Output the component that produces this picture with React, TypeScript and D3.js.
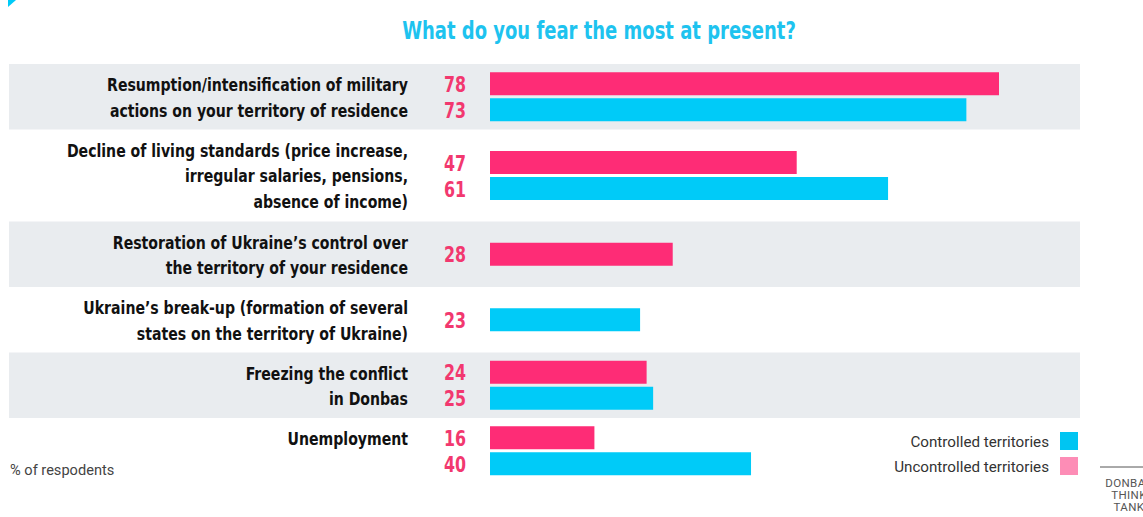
import React from "react";
import * as d3 from "d3";

const title = "What do you fear the most at present?";
const categories: string[][] = [
  ["Resumption/intensification of military", "actions on your territory of residence"],
  ["Decline of living standards (price increase,", "irregular salaries, pensions,", "absence of income)"],
  ["Restoration of Ukraine’s control over", "the territory of your residence"],
  ["Ukraine’s break-up (formation of several", "states on the territory of Ukraine)"],
  ["Freezing the conflict", "in Donbas"],
  ["Unemployment"],
];
const uncontrolled: (number | null)[] = [78, 47, 28, null, 24, 16];
const controlled: (number | null)[] = [73, 61, null, 23, 25, 40];
const legendItems = ["Controlled territories", "Uncontrolled territories"];
const unitNote = "% of respodents";
const brandLines = ["DONBAS", "THINK", "TANK"];

const W = 1143;
const H = 517;
const PINK = "#fe2c76";
const CYAN = "#00cbf8";
const PINK_LIGHT = "#fd8db6";
const CYAN_LEGEND = "#00c5f2";
const NUM = "#f2386f";
const BAND = "#e9ecef";
const FONT = "'DejaVu Sans Condensed', 'DejaVu Sans', sans-serif";
const FONT_REG = "Roboto, 'Liberation Sans', sans-serif";

function NarrowText(props: {
  x: number;
  y: number;
  sx: number;
  anchor: "start" | "middle" | "end";
  size: number;
  fill: string;
  weight?: number;
  family: string;
  children: React.ReactNode;
}) {
  const { x, y, sx, anchor, size, fill, weight, family, children } = props;
  return (
    <g transform={`translate(${x},${y}) scale(${sx},1)`}>
      <text x={0} y={0} dy="0.35em" textAnchor={anchor} fontFamily={family} fontWeight={weight ?? 400} fontSize={size} fill={fill}>
        {children}
      </text>
    </g>
  );
}

export default function App() {
  const top0 = 64;
  const heights = categories.map((c) => (c.length >= 3 ? 92 : 65.5));
  const tops: number[] = [];
  let acc = top0;
  heights.forEach((h) => {
    tops.push(acc);
    acc += h;
  });
  const maxV = d3.max([...uncontrolled, ...controlled].map((v) => v ?? 0)) as number;
  const x = d3.scaleLinear().domain([0, maxV]).range([490, 999]);
  const barH = 23;
  const gap = 3;
  const lineH = 25.5;

  return (
    <svg width={W} height={H} style={{ position: "absolute", left: 0, top: 0, background: "#fff" }}>
      <polygon points="8,0 16,0 8,7" fill={CYAN} />
      <NarrowText x={599} y={30} sx={0.8} anchor="middle" size={25} fill="#1ec3ef" weight={700} family={FONT}>
        {title}
      </NarrowText>
      {categories.map((lines, i) => {
        const t = tops[i];
        const h = heights[i];
        const bars: { v: number; c: string }[] = [];
        if (uncontrolled[i] != null) bars.push({ v: uncontrolled[i] as number, c: PINK });
        if (controlled[i] != null) bars.push({ v: controlled[i] as number, c: CYAN });
        const groupH = bars.length * barH + (bars.length - 1) * gap;
        const by0 = t + (h - groupH) / 2;
        return (
          <g key={i}>
            {i % 2 === 0 && <rect x={9} y={t} width={1071} height={h} fill={BAND} />}
            {lines.map((ln, j) => (
              <NarrowText key={j} x={408} y={t + 21 + j * lineH} sx={0.87} anchor="end" size={18} fill="#111" weight={700} family={FONT}>
                {ln}
              </NarrowText>
            ))}
            {bars.map((b, k) => {
              const y = by0 + k * (barH + gap);
              return (
                <g key={k}>
                  <rect x={x(0)} y={y} width={x(b.v) - x(0)} height={barH} fill={b.c} />
                  <NarrowText x={466} y={y + barH / 2 + 0.5} sx={0.8} anchor="end" size={22} fill={NUM} weight={700} family={FONT}>
                    {b.v}
                  </NarrowText>
                </g>
              );
            })}
          </g>
        );
      })}
      <text x={10} y={470} dy="0.35em" fontFamily={FONT_REG} fontSize={14.6} fill="#444">
        {unitNote}
      </text>
      {legendItems.map((l, i) => (
        <g key={l}>
          <text x={1049} y={442 + i * 25} dy="0.35em" textAnchor="end" fontFamily={FONT_REG} fontSize={15.2} fill="#333">
            {l}
          </text>
          <rect x={1060} y={432 + i * 25} width={18} height={18} fill={i === 0 ? CYAN_LEGEND : PINK_LIGHT} />
        </g>
      ))}
      <line x1={1100} x2={W} y1={467} y2={467} stroke="#555" strokeWidth={1} />
      {brandLines.map((b, i) => (
        <text key={b} x={1129} y={483 + i * 12} dy="0.35em" textAnchor="middle" fontFamily={FONT_REG} fontSize={11.5} letterSpacing={0.4} fill="#555">
          {b}
        </text>
      ))}
    </svg>
  );
}
